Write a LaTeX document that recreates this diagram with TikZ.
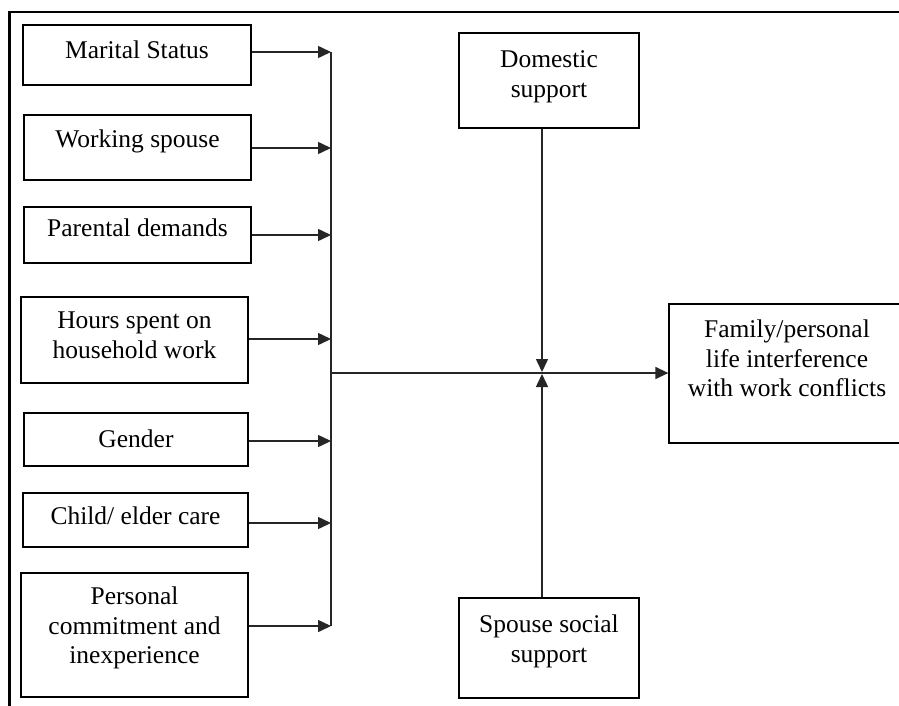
\documentclass[tikz,border=0pt]{standalone}
\usepackage{fontspec}
\setmainfont{Liberation Serif}
\usetikzlibrary{arrows.meta}
\begin{document}
\begin{tikzpicture}[x=1pt,y=-1pt,
  box/.style={draw=black, line width=1.3pt, inner sep=0pt, rectangle},
  txt/.style={inner sep=0pt, align=center, font=\fontsize{25.5}{29.5}\selectfont},
  conn/.style={draw=black!85, line width=1.5pt},
  arr/.style={conn, -{Triangle[length=13pt,width=12pt]}},
  frameline/.style={draw=black, line width=2.5pt}]
\useasboundingbox (0,0) rectangle (899,705);
\clip (0,0) rectangle (899,705);
% outer frame (only top and left edges visible)
\draw[frameline] (9.5,720) -- (9.5,12) -- (920,12);
% left column boxes
\node[box, minimum width=228pt, minimum height=60pt] (ms) at (137,55) {};
\node[box, minimum width=227pt, minimum height=65pt] (ws) at (137.5,147.5) {};
\node[box, minimum width=227pt, minimum height=56pt] (pd) at (137.5,235) {};
\node[box, minimum width=227pt, minimum height=86pt] (hs) at (134.5,340) {};
\node[box, minimum width=224pt, minimum height=53pt] (g) at (136,439.5) {};
\node[box, minimum width=225pt, minimum height=54pt] (ce) at (135.5,520) {};
\node[box, minimum width=227pt, minimum height=124pt] (pc) at (134.5,635) {};
% middle and right boxes
\node[box, minimum width=180pt, minimum height=95pt] (dom) at (549,80.5) {};
\node[box, minimum width=180pt, minimum height=100pt] (sp) at (549,648) {};
\node[box, minimum width=236pt, minimum height=139pt] (fam) at (787,373.5) {};
% texts
\node[txt, anchor=base] (ms-t) at (137,58) {Marital Status};
\node[txt, anchor=base] (ws-t) at (137.5,147) {Working spouse};
\node[txt, anchor=base] (pd-t) at (137.5,236) {Parental demands};
\node[txt, anchor=north] (hs-t) at (134.5,311.7) {Hours spent on\\household work};
\node[txt, anchor=base] (g-t) at (136,447) {Gender};
\node[txt, anchor=base] (ce-t) at (135.5,524) {Child/ elder care};
\node[txt, anchor=north] (pc-t) at (134.5,586.7) {Personal\\commitment and\\inexperience};
\node[txt, anchor=north] (dom-t) at (549,50.7) {Domestic\\support};
\node[txt, anchor=north] (sp-t) at (549,614.7) {Spouse social\\support};
\node[txt, anchor=north] (fam-t) at (787,319.7) {Family/personal\\life interference\\with work conflicts};
% bus
\coordinate (b1) at (331,52);
\coordinate (b2) at (331,148);
\coordinate (b3) at (331,235);
\coordinate (b4) at (331,339);
\coordinate (b5) at (331,441);
\coordinate (b6) at (331,523);
\coordinate (b7) at (331,626);
\coordinate (j) at (331,373);
\draw[conn] (b1) -- (b7);
\draw[arr] (ms.east |- b1) -- (b1);
\draw[arr] (ws.east |- b2) -- (b2);
\draw[arr] (pd.east |- b3) -- (b3);
\draw[arr] (hs.east |- b4) -- (b4);
\draw[arr] (g.east |- b5) -- (b5);
\draw[arr] (ce.east |- b6) -- (b6);
\draw[arr] (pc.east |- b7) -- (b7);
% output
\draw[arr] (j) -- (fam.west |- j);
% moderators
\coordinate (mtop) at (542,372);
\coordinate (mbot) at (542,374);
\draw[arr] (dom.south -| mtop) -- (mtop);
\draw[arr] (sp.north -| mbot) -- (mbot);
\end{tikzpicture}
\end{document}
